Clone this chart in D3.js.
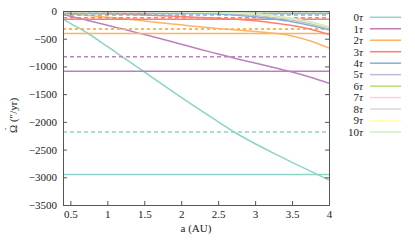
<!DOCTYPE html>
<html>
<head>
<meta charset="utf-8">
<script src="https://cdn.jsdelivr.net/npm/d3@7"></script>
<style>
body { margin: 0; background: #fff; }
</style>
</head>
<body>
<div id="chart"></div>
<script>
// semi-major axis samples (AU)
var aGrid = [0.4, 0.5, 0.75, 1, 1.25, 1.5, 1.75, 2, 2.25, 2.5, 2.75, 3, 3.25, 3.5, 3.75, 4];

// precession rate curves, one per tau multiple
var curve0  = [-145, -222, -415, -640, -870, -1100, -1330, -1560, -1780, -2000, -2210, -2395, -2565, -2730, -2890, -3050];
var curve1  = [-65, -95, -175, -258, -340, -425, -510, -600, -690, -775, -860, -940, -1020, -1100, -1195, -1305];
var curve2  = [-42, -52, -80, -112, -145, -180, -215, -250, -285, -315, -342, -368, -400, -450, -540, -670];
var curve3  = [-30, -33, -40, -50, -60, -72, -86, -100, -116, -133, -150, -178, -215, -262, -330, -425];
var curve4  = [-15, -16, -18, -20, -23, -26, -30, -35, -42, -55, -75, -105, -145, -195, -260, -340];
var curve5  = [-8, -8, -9, -10, -12, -14, -17, -21, -27, -36, -52, -78, -115, -165, -230, -320];
var curve6  = [-5, -5, -6, -7, -8, -10, -12, -15, -20, -28, -42, -65, -100, -150, -215, -305];
var curve7  = [-4, -4, -5, -6, -7, -8, -10, -13, -18, -25, -38, -60, -95, -145, -210, -300];
var curve8  = [-3, -3, -4, -5, -6, -7, -9, -12, -16, -23, -35, -57, -92, -140, -205, -295];
var curve9  = [-3, -3, -3, -4, -5, -6, -8, -11, -15, -22, -34, -55, -90, -138, -202, -290];
var curve10 = [-2, -2, -3, -4, -5, -6, -8, -10, -14, -21, -33, -53, -88, -135, -200, -285];
var curves = [curve0, curve1, curve2, curve3, curve4, curve5, curve6, curve7, curve8, curve9, curve10];

// constant levels (solid and dashed) per tau multiple
var solidVals  = [-2950, -1088, -405, -150, -45, -22, -12, -8, -6, -4, -3];
var dashedVals = [-2183, -824, -325, -122, -70, -30, -16, -10, -7, -5, -4];

var tauLabels = ["0", "1", "2", "3", "4", "5", "6", "7", "8", "9", "10"];
var colors = ["#8dd3c7", "#bc80bd", "#fdb462", "#fb8072", "#80b1d3", "#bebada",
              "#b3de69", "#fccde5", "#d9d9d9", "#ffffb3", "#ccebc5"];

var xTicks = [0.5, 1, 1.5, 2, 2.5, 3, 3.5, 4];
var yTicks = [0, -500, -1000, -1500, -2000, -2500, -3000, -3500];

var W = 415, H = 242;
var margin = {top: 11, right: 86, bottom: 37, left: 63};
var pw = W - margin.left - margin.right;
var ph = H - margin.top - margin.bottom;
var serif = "Liberation Serif";
var fs = 11;

var svg = d3.select("#chart").append("svg")
    .attr("width", W)
    .attr("height", H)
    .attr("font-family", serif);

var g = svg.append("g")
    .attr("transform", "translate(" + margin.left + "," + margin.top + ")");

var x = d3.scaleLinear().domain([0.4, 4]).range([0, pw]);
var y = d3.scaleLinear().domain([-3500, 0]).range([ph, 0]);

g.append("clipPath").attr("id", "clip")
  .append("rect").attr("width", pw).attr("height", ph);

var plot = g.append("g").attr("clip-path", "url(#clip)");

var line = d3.line()
    .x(function(d, i){ return x(aGrid[i]); })
    .y(function(d){ return y(d); })
    .curve(d3.curveMonotoneX);

curves.forEach(function(c, k){
    plot.append("line")
        .attr("x1", x(0.4)).attr("x2", x(4))
        .attr("y1", y(solidVals[k])).attr("y2", y(solidVals[k]))
        .attr("stroke", colors[k]).attr("stroke-width", 1.5);
    plot.append("line")
        .attr("x1", x(0.4)).attr("x2", x(4))
        .attr("y1", y(dashedVals[k])).attr("y2", y(dashedVals[k]))
        .attr("stroke", colors[k])
        .attr("stroke-width", k == 2 ? 2 : 1.5)
        .attr("stroke-dasharray", k == 2 ? "3,3" : "4,3");
    plot.append("path")
        .datum(c)
        .attr("d", line)
        .attr("fill", "none")
        .attr("stroke", colors[k])
        .attr("stroke-width", 1.5);
});

// axes, ticks drawn inward on all four sides
var axisColor = "#555";
var bottom = g.append("g").attr("transform", "translate(0," + ph + ")")
    .call(d3.axisBottom(x).tickValues(xTicks).tickSize(-4).tickPadding(5)
        .tickFormat(function(d){ return d; }));
var left = g.append("g")
    .call(d3.axisLeft(y).tickValues(yTicks).tickSize(-4).tickPadding(6)
        .tickFormat(function(d){ return d < 0 ? "\u2212" + (-d) : d; }));
var top_ = g.append("g")
    .call(d3.axisTop(x).tickValues(xTicks).tickSize(-4).tickFormat(""));
var right = g.append("g").attr("transform", "translate(" + pw + ",0)")
    .call(d3.axisRight(y).tickValues(yTicks).tickSize(-4).tickFormat(""));

[bottom, left, top_, right].forEach(function(a){
    a.attr("font-family", serif).attr("font-size", fs);
    a.select(".domain").attr("stroke", axisColor);
    a.selectAll(".tick line").attr("stroke", axisColor);
    a.selectAll("text").attr("fill", "#222");
});

// axis titles
var ylab = svg.append("g")
    .attr("transform", "translate(17," + (margin.top + ph / 2) + ") rotate(-90)");
ylab.append("text")
    .attr("x", -25).attr("y", 0)
    .attr("font-size", fs)
    .attr("fill", "#222")
    .text("\u03A9 (\u2033/yr)");
ylab.append("text")
    .attr("x", -21).attr("y", -5)
    .attr("text-anchor", "middle")
    .attr("font-size", fs)
    .attr("fill", "#222")
    .text("\u02D9");

svg.append("text")
    .attr("x", margin.left + pw / 2)
    .attr("y", 232)
    .attr("text-anchor", "middle")
    .attr("font-size", fs)
    .attr("fill", "#222")
    .text("a (AU)");

// legend
var legend = svg.append("g");
tauLabels.forEach(function(lab, k){
    var ly = 17.3 + k * 11.47;
    var t = legend.append("text")
        .attr("x", 363).attr("y", ly + 3.8)
        .attr("text-anchor", "end")
        .attr("font-size", fs)
        .attr("fill", "#222");
    t.append("tspan").text(lab);
    t.append("tspan").attr("font-style", "italic").text("\u03C4");
    legend.append("line")
        .attr("x1", 370).attr("x2", 401)
        .attr("y1", ly).attr("y2", ly)
        .attr("stroke", colors[k]).attr("stroke-width", 1.5);
});
</script>
</body>
</html>
